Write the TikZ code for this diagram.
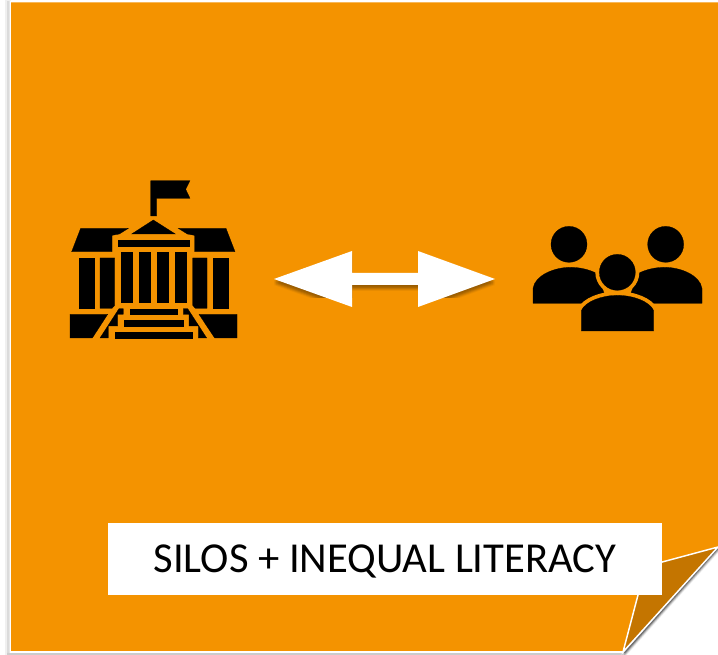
\documentclass[tikz,border=0pt]{standalone}
\usepackage{fontspec}
\setmainfont{Carlito}
\definecolor{pageorange}{RGB}{244,147,0}
\definecolor{folddark}{RGB}{196,117,0}
\definecolor{arrowshade}{RGB}{90,55,0}
\tikzset{
    icon/.style={fill=black,draw=black,line width=0.2pt},
    halo/.style={draw=pageorange,line width=6pt},
    caption/.style={fill=white,minimum width=415.5pt,minimum height=54pt,inner sep=0pt,text height=20.5pt,text depth=0pt,font=\fontsize{32}{38}\selectfont}
}
\begin{document}
\begin{tikzpicture}[x=0.75pt,y=-0.75pt]
    \useasboundingbox (0,0) rectangle (718,655);
    %sombra de la hoja
    \fill[black!6] (5,0) rectangle (11,655);
    \fill[black!14] (7,1) rectangle (9.5,655);
    \fill[black!20] (7,653) -- (623,653) -- (625,655) -- (7,655) --cycle;
    \foreach \d/\o in {1/0.25,2/0.20,3/0.15,4/0.10,5/0.06}
        \fill[black,opacity=\o] (623,652) -- (718,547) -- (718,548+\d) -- (625,652+\d) --cycle;
    % Hoja
    \fill[white] (9.5,1) -- (718,1) -- (718,547) -- (623,653) -- (9.5,653) --cycle;
    \fill[pageorange] (11,2.5) -- (718,2.5) -- (718,547) -- (645.5,566.5) -- (623,651) -- (11,651) --cycle;
    % Esquina doblada
    \fill[folddark] (718,547) -- (645.5,566.5) -- (623,652) --cycle;
    \draw[white,line width=1.1pt] (718,547) -- (645.5,566.5) -- (623,652) -- (718,547);

    % Edificio
    \begin{scope}[shift={(50,160)},x=0.25pt,y=-0.25pt]
        \fill[icon] (302,168) -- (302,62) -- (420,62) -- (407,88) -- (420,115) -- (320,115) -- (320,168) --cycle;
        \fill[icon] (245,222) -- (310,180) -- (376,222) --cycle;
        \fill[icon] (92,205) -- (235,205) -- (208,222) -- (186,226) -- (186,275) -- (65,275) --cycle;
        \fill[icon] (528,205) -- (385,205) -- (412,222) -- (434,226) -- (434,275) -- (555,275) --cycle;
        \fill[icon] (203,240) rectangle (418,259);
        \foreach \x in {212,266,320,374}
            \fill[icon] (\x,277) rectangle +(35,150);
        \fill[icon] (87,294) rectangle (131,445);
        \fill[icon] (150,294) -- (194,294) -- (194,436) -- (186,445) -- (150,445) --cycle;
        \fill[icon] (428,294) -- (471,294) -- (471,445) -- (436,445) -- (428,436) --cycle;
        \fill[icon] (490,294) rectangle (534,445);
        % base y escalones
        \fill[icon] (60,463) -- (173,463) -- (127,534) -- (60,534) --cycle;
        \fill[icon] (447,463) -- (561,463) -- (561,534) -- (494,534) --cycle;
        \fill[icon] (239,446) rectangle (382,463);
        \fill[icon] (221,481) rectangle (400,498);
        \fill[icon] (194,516) rectangle (427,534);
        \fill[icon] (207,446) -- (220,446) -- (220,463) -- (203,463) -- (203,498) -- (175,498) -- (175,534) -- (150,534) --cycle;
        \fill[icon] (413,446) -- (400,446) -- (400,463) -- (417,463) -- (417,498) -- (445,498) -- (445,534) -- (470,534) --cycle;
    \end{scope}

    % Flecha doble, primero la sombra
    \begin{scope}
        \clip (250,240) rectangle (520,298);
        \foreach \d/\o in {1/0.10,2/0.14,3/0.18,4/0.16,5/0.12,6/0.08}
            \fill[arrowshade,opacity=\o,yshift=-0.75*\d pt] (274,279) -- (352,251) -- (352,273) -- (418,273) -- (418,251) -- (495,279) -- (418,307) -- (418,285) -- (352,285) -- (352,307) --cycle;
    \end{scope}
    \fill[white] (274,279) -- (352,251) -- (352,273) -- (418,273) -- (418,251) -- (495,279) -- (418,307) -- (418,285) -- (352,285) -- (352,307) --cycle;

    % Personas
    \begin{scope}[shift={(260,210)},x=0.25pt,y=-0.25pt]
        \fill[icon] (927,103) circle (54);
        \fill[icon] (1217,103) circle (54);
        \fill[icon] (819,280) -- (819,235) .. controls (825,195) and (885,172) .. (930,172) .. controls (960,172) and (985,178) .. (1010,190) -- (1040,270) -- (1000,280) --cycle;
        \fill[icon] (1326,280) -- (1326,235) .. controls (1320,195) and (1260,172) .. (1215,172) .. controls (1185,172) and (1160,178) .. (1135,190) -- (1105,270) -- (1145,280) --cycle;
        % contorno naranja y encima la figura central
        \draw[halo] (1072,187) circle (54);
        \draw[halo] (964,363) -- (964,302) .. controls (975,275) and (1025,256) .. (1072,256) .. controls (1120,256) and (1170,275) .. (1181,302) -- (1181,363) --cycle;
        \fill[icon] (1072,187) circle (54);
        \fill[icon] (964,363) -- (964,302) .. controls (975,275) and (1025,256) .. (1072,256) .. controls (1120,256) and (1170,275) .. (1181,302) -- (1181,363) --cycle;
    \end{scope}

    % Titulo
    \node[caption] (title) at (385,559) {SILOS + INEQUAL LITERACY};
\end{tikzpicture}
\end{document}
